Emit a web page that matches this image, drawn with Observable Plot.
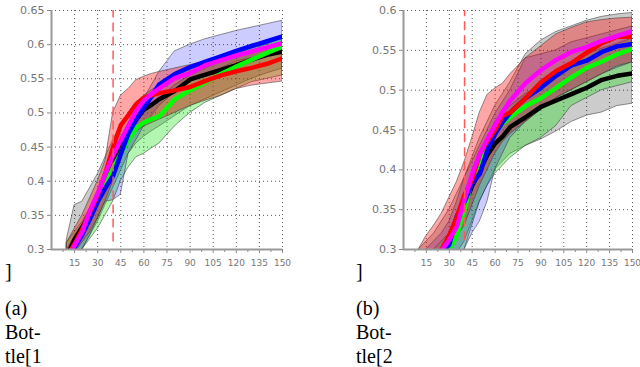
<!DOCTYPE html>
<html><head><meta charset="utf-8">
<script src="https://cdn.jsdelivr.net/npm/d3@7"></script>
<script src="https://cdn.jsdelivr.net/npm/@observablehq/plot@0.6"></script>
<style>
body{margin:0;width:640px;height:367px;position:relative;overflow:hidden;background:#fff;}
.panel{position:absolute;top:0;}
.cap{position:absolute;font-family:'Liberation Serif','Times New Roman','DejaVu Serif','Noto Serif',serif;font-size:20px;line-height:24px;color:#000;}
</style></head><body>
<div id="pa" class="panel" style="left:0"></div>
<div id="pb" class="panel" style="left:350px"></div>
<div class="cap" style="left:5px;top:259px">]</div>
<div class="cap" style="left:5px;top:296px">(a)<br>Bot-<br>tle[1</div>
<div class="cap" style="left:356px;top:259px">]</div>
<div class="cap" style="left:356px;top:296px">(b)<br>Bot-<br>tle[2</div>
<script>
// shared x positions (iterations)
const xs = [10, 15, 20, 25, 30, 35, 40, 45, 50, 55, 60, 65, 70, 80, 90, 100, 110, 120, 130, 140, 150];
const xTickLabels = [15, 30, 45, 60, 75, 90, 105, 120, 135, 150];
const xMinor = [7.5, 22.5, 37.5, 52.5, 67.5, 82.5, 97.5, 112.5, 127.5, 142.5];
const markerX = [40];

// ---- panel (a) ----
const yTicksA = [0.3, 0.35, 0.4, 0.45, 0.5, 0.55, 0.6, 0.65];
const blackA   = [0.29, 0.315, 0.333, 0.352, 0.376, 0.40, 0.43, 0.458, 0.476, 0.49, 0.505, 0.512, 0.52, 0.532, 0.549, 0.556, 0.563, 0.57, 0.578, 0.585, 0.59];
const redA     = [0.29, 0.308, 0.33, 0.355, 0.38, 0.412, 0.45, 0.482, 0.497, 0.513, 0.522, 0.526, 0.529, 0.533, 0.538, 0.547, 0.555, 0.561, 0.566, 0.572, 0.58];
const greenA   = [0.29, 0.306, 0.325, 0.35, 0.37, 0.395, 0.42, 0.44, 0.46, 0.478, 0.486, 0.491, 0.495, 0.52, 0.533, 0.545, 0.557, 0.568, 0.578, 0.588, 0.597];
const blueA    = [0.285, 0.303, 0.322, 0.345, 0.37, 0.39, 0.408, 0.44, 0.47, 0.49, 0.508, 0.524, 0.542, 0.557, 0.567, 0.575, 0.583, 0.591, 0.598, 0.605, 0.612];
const magentaA = [0.285, 0.306, 0.326, 0.357, 0.382, 0.411, 0.438, 0.46, 0.482, 0.503, 0.518, 0.528, 0.536, 0.551, 0.558, 0.57, 0.577, 0.584, 0.59, 0.596, 0.602];
const blackLoA = [0.28, 0.29, 0.30, 0.32, 0.34, 0.365, 0.39, 0.415, 0.44, 0.455, 0.465, 0.473, 0.48, 0.495, 0.51, 0.52, 0.53, 0.54, 0.55, 0.558, 0.565];
const blackHiA = [0.315, 0.365, 0.37, 0.39, 0.41, 0.435, 0.46, 0.482, 0.50, 0.515, 0.525, 0.533, 0.54, 0.555, 0.565, 0.575, 0.58, 0.59, 0.60, 0.605, 0.61];
const redLoA   = [0.28, 0.295, 0.31, 0.325, 0.345, 0.37, 0.40, 0.43, 0.46, 0.472, 0.48, 0.485, 0.49, 0.50, 0.51, 0.518, 0.525, 0.535, 0.54, 0.543, 0.546];
const redHiA   = [0.31, 0.33, 0.35, 0.375, 0.40, 0.43, 0.50, 0.525, 0.535, 0.548, 0.553, 0.557, 0.56, 0.565, 0.57, 0.575, 0.58, 0.585, 0.59, 0.595, 0.60];
const greenLoA = [0.28, 0.29, 0.30, 0.315, 0.33, 0.35, 0.37, 0.40, 0.42, 0.435, 0.44, 0.448, 0.455, 0.48, 0.50, 0.515, 0.525, 0.535, 0.545, 0.55, 0.555];
const greenHiA = [0.31, 0.325, 0.34, 0.36, 0.38, 0.41, 0.44, 0.46, 0.48, 0.495, 0.505, 0.513, 0.52, 0.54, 0.555, 0.565, 0.575, 0.585, 0.595, 0.60, 0.61];
const blueLoA  = [0.28, 0.29, 0.30, 0.32, 0.345, 0.37, 0.372, 0.38, 0.44, 0.46, 0.48, 0.495, 0.51, 0.53, 0.545, 0.555, 0.565, 0.575, 0.58, 0.588, 0.595];
const blueHiA  = [0.30, 0.318, 0.335, 0.36, 0.385, 0.405, 0.425, 0.455, 0.48, 0.50, 0.52, 0.54, 0.56, 0.59, 0.60, 0.608, 0.614, 0.62, 0.625, 0.63, 0.635];

// ---- panel (b) ----
const yTicksB = [0.3, 0.35, 0.4, 0.45, 0.5, 0.55, 0.6];
const blackB   = [0.27, 0.275, 0.28, 0.29, 0.305, 0.325, 0.356, 0.38, 0.399, 0.419, 0.433, 0.442, 0.454, 0.466, 0.479, 0.487, 0.495, 0.503, 0.513, 0.518, 0.521];
const redB     = [0.27, 0.28, 0.29, 0.30, 0.318, 0.341, 0.369, 0.388, 0.42, 0.436, 0.45, 0.468, 0.472, 0.49, 0.51, 0.524, 0.534, 0.547, 0.559, 0.567, 0.567];
const greenB   = [0.26, 0.27, 0.28, 0.29, 0.30, 0.318, 0.35, 0.388, 0.41, 0.427, 0.447, 0.458, 0.466, 0.48, 0.49, 0.503, 0.516, 0.528, 0.536, 0.545, 0.552];
const blueB    = [0.27, 0.28, 0.29, 0.297, 0.306, 0.342, 0.36, 0.383, 0.395, 0.425, 0.445, 0.46, 0.472, 0.49, 0.503, 0.518, 0.531, 0.537, 0.548, 0.555, 0.558];
const magentaB = [0.27, 0.28, 0.29, 0.299, 0.312, 0.329, 0.363, 0.395, 0.42, 0.439, 0.456, 0.473, 0.487, 0.509, 0.525, 0.538, 0.548, 0.554, 0.562, 0.568, 0.574];
const blackLoB = [0.26, 0.27, 0.275, 0.28, 0.285, 0.295, 0.31, 0.335, 0.36, 0.38, 0.40, 0.41, 0.42, 0.43, 0.438, 0.448, 0.46, 0.468, 0.472, 0.48, 0.483];
const blackHiB = [0.30, 0.31, 0.32, 0.335, 0.35, 0.37, 0.39, 0.415, 0.44, 0.46, 0.48, 0.495, 0.51, 0.545, 0.562, 0.573, 0.58, 0.587, 0.592, 0.595, 0.597];
const redLoB   = [0.27, 0.275, 0.28, 0.29, 0.30, 0.315, 0.33, 0.355, 0.38, 0.40, 0.42, 0.435, 0.445, 0.46, 0.475, 0.49, 0.50, 0.51, 0.52, 0.53, 0.535];
const redHiB   = [0.30, 0.317, 0.33, 0.345, 0.365, 0.385, 0.41, 0.44, 0.472, 0.494, 0.502, 0.508, 0.52, 0.54, 0.555, 0.57, 0.578, 0.585, 0.588, 0.59, 0.591];
const greenLoB = [0.26, 0.265, 0.27, 0.275, 0.28, 0.29, 0.30, 0.33, 0.36, 0.38, 0.395, 0.405, 0.415, 0.43, 0.44, 0.455, 0.48, 0.49, 0.50, 0.505, 0.51];
const greenHiB = [0.28, 0.29, 0.30, 0.31, 0.32, 0.345, 0.37, 0.395, 0.42, 0.44, 0.46, 0.47, 0.48, 0.495, 0.505, 0.52, 0.535, 0.545, 0.552, 0.558, 0.565];
const blueLoB  = [0.26, 0.265, 0.27, 0.275, 0.28, 0.29, 0.30, 0.32, 0.335, 0.36, 0.40, 0.42, 0.44, 0.46, 0.475, 0.49, 0.50, 0.51, 0.52, 0.528, 0.535];
const blueHiB  = [0.29, 0.30, 0.31, 0.32, 0.335, 0.36, 0.39, 0.41, 0.43, 0.45, 0.47, 0.485, 0.50, 0.54, 0.545, 0.55, 0.56, 0.565, 0.57, 0.575, 0.58];

const rows = (ys) => xs.map((x, i) => ({x, y: ys[i]}));
const bandRows = (lo, hi) => xs.map((x, i) => ({x, lo: lo[i], hi: hi[i]}));

function panel(cfg) {
  // drawn in this order: gray, green, blue, red (overlaps give brown / mauve / teal)
  const bands = [
    {lo: cfg.blackLo, hi: cfg.blackHi, fill: "#000000", op: 0.2},
    {lo: cfg.greenLo, hi: cfg.greenHi, fill: "#00e000", op: 0.3},
    {lo: cfg.blueLo, hi: cfg.blueHi, fill: "#0000ff", op: 0.2},
    {lo: cfg.redLo, hi: cfg.redHi, fill: "#ff0000", op: 0.35}
  ];
  const lines = [
    {ys: cfg.black, c: "#000000"},
    {ys: cfg.green, c: "#00ff00"},
    {ys: cfg.blue, c: "#0000ff"},
    {ys: cfg.red, c: "#ff0000"},
    {ys: cfg.magenta, c: "#ff00ff"}
  ];
  const yMax = cfg.yTicks[cfg.yTicks.length - 1];
  return Plot.plot({
    width: 290,
    height: 269,
    marginLeft: cfg.ml,
    marginRight: cfg.mr,
    marginTop: 10,
    marginBottom: 20,
    x: {domain: [0, 150]},
    y: {domain: [0.3, yMax]},
    style: {fontFamily: "DejaVu Sans, sans-serif", background: "#fff", overflow: "visible"},
    marks: [
      Plot.gridX(xTickLabels, {stroke: "#444", strokeOpacity: 0.9, strokeDasharray: "1,3"}),
      Plot.gridY(cfg.yTicks.slice(1), {stroke: "#444", strokeOpacity: 0.9, strokeDasharray: "1,3"}),
      ...bands.map(b => Plot.areaY(bandRows(b.lo, b.hi), {
        x: "x", y1: "lo", y2: "hi", fill: b.fill, fillOpacity: b.op,
        stroke: "#3a3a3a", strokeWidth: 0.8, strokeOpacity: 0.7, clip: true
      })),
      ...lines.map(l => Plot.line(rows(l.ys), {
        x: "x", y: "y", stroke: l.c, strokeWidth: 4.5, strokeLinejoin: "miter", clip: true
      })),
      Plot.ruleX(markerX, {y1: 0.311, y2: yMax, stroke: "#ff5a5a", strokeWidth: 1.5, strokeDasharray: "9,5"}),
      Plot.axisX(xMinor, {tickSize: 3, text: null, stroke: "#888", label: null}),
      Plot.axisX(xTickLabels, {tickSize: 4, tickPadding: 6, fontSize: 9, color: "#777", stroke: "#888", label: null}),
      Plot.axisY(cfg.yTicks, {tickSize: 4, tickPadding: 3, fontSize: 11, color: "#777", stroke: "#888", label: null, tickFormat: d => String(d)}),
      Plot.ruleX([0], {stroke: "#999", strokeWidth: 2}),
      Plot.ruleY([0.3], {stroke: "#999", strokeWidth: 2})
    ]
  });
}

document.getElementById("pa").append(panel({
  ml: 51, mr: 8, yTicks: yTicksA,
  black: blackA, red: redA, green: greenA, blue: blueA, magenta: magentaA,
  blackLo: blackLoA, blackHi: blackHiA, redLo: redLoA, redHi: redHiA,
  greenLo: greenLoA, greenHi: greenHiA, blueLo: blueLoA, blueHi: blueHiA
}));
document.getElementById("pb").append(panel({
  ml: 53, mr: 8, yTicks: yTicksB,
  black: blackB, red: redB, green: greenB, blue: blueB, magenta: magentaB,
  blackLo: blackLoB, blackHi: blackHiB, redLo: redLoB, redHi: redHiB,
  greenLo: greenLoB, greenHi: greenHiB, blueLo: blueLoB, blueHi: blueHiB
}));
</script>
</body></html>
